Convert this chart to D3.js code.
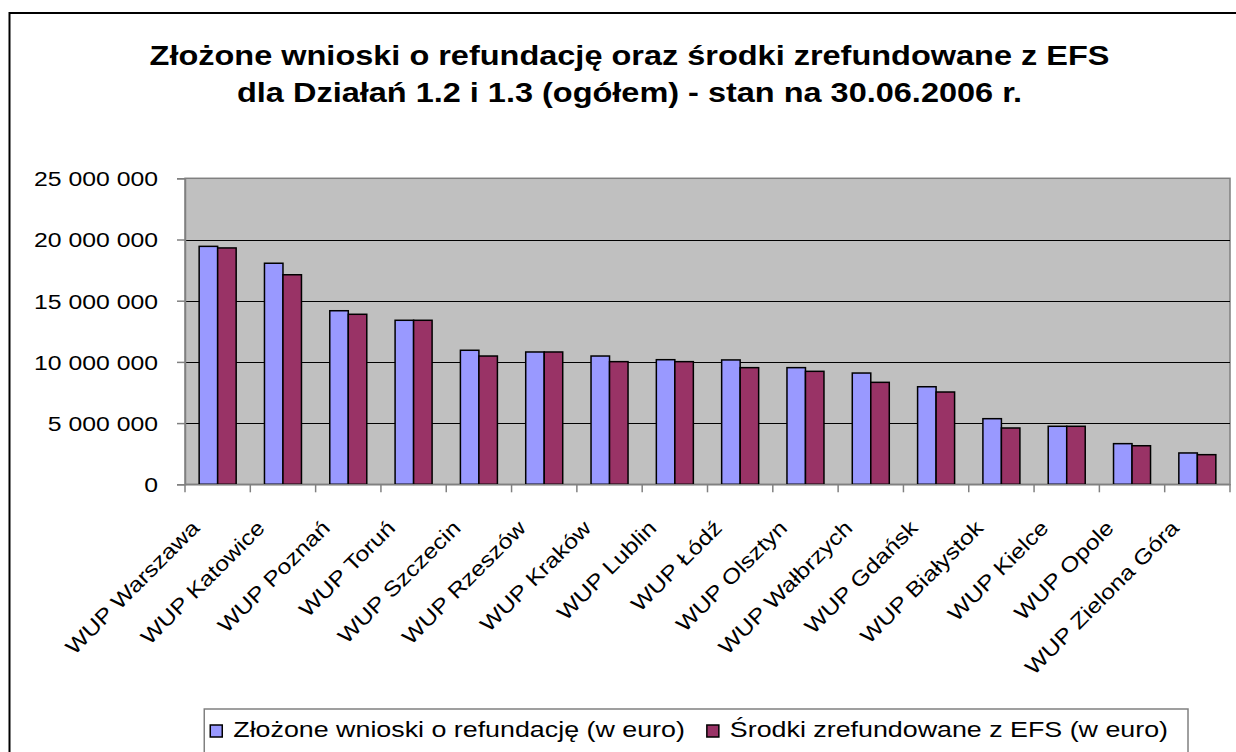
<!DOCTYPE html>
<html>
<head>
<meta charset="utf-8">
<script src="https://cdn.jsdelivr.net/npm/d3@7"></script>
<style>
	body { margin: 0; background: #fff; }
	svg { display: block; font-family: "Liberation Sans", Arial, sans-serif; }
</style>
</head>
<body>
<svg id="chart" width="1236" height="752"></svg>
<script>
// values (euro)
var categories = ["WUP Warszawa", "WUP Katowice", "WUP Poznań", "WUP Toruń", "WUP Szczecin",
	"WUP Rzeszów", "WUP Kraków", "WUP Lublin", "WUP Łódź", "WUP Olsztyn", "WUP Wałbrzych",
	"WUP Gdańsk", "WUP Białystok", "WUP Kielce", "WUP Opole", "WUP Zielona Góra"];
var submitted = [19440000, 18060000, 14180000, 13400000, 10950000, 10810000, 10480000, 10180000,
	10160000, 9530000, 9090000, 7970000, 5360000, 4740000, 3320000, 2560000];
var refunded = [19310000, 17120000, 13890000, 13400000, 10480000, 10810000, 10020000, 10020000,
	9530000, 9230000, 8330000, 7540000, 4600000, 4740000, 3150000, 2420000];
var seriesNames = ["Złożone wnioski o refundację (w euro)", "Środki zrefundowane z EFS (w euro)"];
var seriesColours = ["#9999FF", "#993366"];
var yTicks = [0, 5000000, 10000000, 15000000, 20000000, 25000000];
var titleLines = ["Złożone wnioski o refundację oraz środki zrefundowane z EFS",
	"dla Działań 1.2 i 1.3 (ogółem) - stan na 30.06.2006 r."];

var svg = d3.select("#chart");
var sx = 1.18; // text in the original is drawn wider than the font

var plot = { left: 185, right: 1230, top: 178.3, bottom: 484.3 };

var data = categories.map(function(c, i) {
	return { cat: c, values: [submitted[i], refunded[i]] };
});

var x0 = d3.scaleBand().domain(categories).range([plot.left, plot.right]).padding(0);
var x1 = d3.scaleBand().domain([0, 1]).range([0, x0.bandwidth()]).paddingOuter(0.765);
var y = d3.scaleLinear().domain([0, 25000000]).range([plot.bottom, plot.top]);

var fmt = d3.formatLocale({ decimal: ",", thousands: " ", grouping: [3], currency: ["", ""] }).format(",");

// outer chart frame
svg.append("rect")
	.attr("x", 9.5).attr("y", 13)
	.attr("width", 1400).attr("height", 900)
	.attr("fill", "none").attr("stroke", "#000").attr("stroke-width", 2);

// title
svg.selectAll(".title")
	.data(titleLines)
	.enter()
	.append("text")
	.classed("title", true)
	.attr("transform", (d, i) => "translate(629.5," + (65 + i * 37) + ") scale(1.16,1)")
	.attr("text-anchor", "middle")
	.style("font-size", "28px")
	.style("font-weight", "bold")
	.text(d => d);

// plot background
svg.append("rect")
	.attr("x", plot.left).attr("y", plot.top)
	.attr("width", plot.right - plot.left).attr("height", plot.bottom - plot.top)
	.attr("fill", "#C0C0C0").attr("stroke", "#808080").attr("stroke-width", 1.5);

// gridlines
svg.append("g")
	.selectAll("line")
	.data(yTicks.filter(d => d > 0 && d < 25000000))
	.enter()
	.append("line")
	.attr("x1", plot.left).attr("x2", plot.right)
	.attr("y1", d => Math.round(y(d)) + 0.5).attr("y2", d => Math.round(y(d)) + 0.5)
	.attr("stroke", "#000").attr("stroke-width", 1);

// bars
var groups = svg.append("g")
	.selectAll("g")
	.data(data)
	.enter()
	.append("g")
	.attr("transform", d => "translate(" + x0(d.cat) + ",0)");

groups.selectAll("rect")
	.data(d => d.values.map((v, i) => ({ s: i, v: v })))
	.enter()
	.append("rect")
	.attr("x", d => x1(d.s))
	.attr("y", d => y(d.v))
	.attr("width", x1.bandwidth())
	.attr("height", d => plot.bottom - y(d.v))
	.attr("fill", d => seriesColours[d.s])
	.attr("stroke", "#000")
	.attr("stroke-width", 1.5);

// y axis
var yAxis = svg.append("g")
	.attr("transform", "translate(" + plot.left + ",0)")
	.call(d3.axisLeft(y).tickValues(yTicks).tickSize(8).tickFormat(fmt));
yAxis.select(".domain").attr("stroke", "#808080").attr("stroke-width", 1.5);
yAxis.selectAll(".tick line").attr("stroke", "#808080").attr("stroke-width", 1.5);
yAxis.selectAll(".tick text")
	.attr("x", null).attr("dy", "0.35em")
	.attr("transform", "translate(-27,0) scale(" + sx + ",1)")
	.attr("fill", "#000")
	.style("font-size", "21px")
	.style("font-family", "Liberation Sans, Arial, sans-serif");

// x axis
var xAxis = svg.append("g")
	.attr("transform", "translate(0," + plot.bottom + ")")
	.call(d3.axisBottom(x0).tickSize(0));
xAxis.select(".domain").attr("stroke", "#808080").attr("stroke-width", 1.5);
xAxis.selectAll(".tick text")
	.attr("y", null).attr("dy", null)
	.attr("text-anchor", "end")
	.attr("transform", "translate(-17,45) rotate(-45) scale(" + sx + ",1)")
	.attr("fill", "#000")
	.style("font-size", "21px")
	.style("font-family", "Liberation Sans, Arial, sans-serif");

// tick marks between categories
xAxis.selectAll(".sep")
	.data(categories.concat(["end"]))
	.enter()
	.append("line")
	.classed("sep", true)
	.attr("x1", (d, i) => plot.left + i * x0.step())
	.attr("x2", (d, i) => plot.left + i * x0.step())
	.attr("y1", 0).attr("y2", 8)
	.attr("stroke", "#808080").attr("stroke-width", 1.5);

// legend
var legend = svg.append("g");
var legendBox = legend.append("rect")
	.attr("fill", "#fff").attr("stroke", "#808080").attr("stroke-width", 1.5);

var lx = 0;
var items = legend.selectAll(".item")
	.data(seriesNames)
	.enter()
	.append("g")
	.classed("item", true);
items.append("rect")
	.attr("width", 12).attr("height", 12)
	.attr("y", -12)
	.attr("fill", (d, i) => seriesColours[i])
	.attr("stroke", "#000").attr("stroke-width", 1.5);
items.append("text")
	.attr("transform", "translate(23,0) scale(1.22,1)")
	.style("font-size", "22px")
	.text(d => d);

items.each(function(d, i) {
	var w = d3.select(this).select("text").node().getComputedTextLength() * 1.22;
	d3.select(this).attr("transform", "translate(" + lx + ",0)");
	lx += 23 + w + 22;
});
var legendRight = 1188;
var contentW = lx - 22;
var legendLeft = legendRight - contentW - 26;
legend.attr("transform", "translate(" + (legendLeft + 6) + ",737)");
legendBox
	.attr("x", -6).attr("y", -28)
	.attr("width", contentW + 26).attr("height", 80);
</script>
</body>
</html>
